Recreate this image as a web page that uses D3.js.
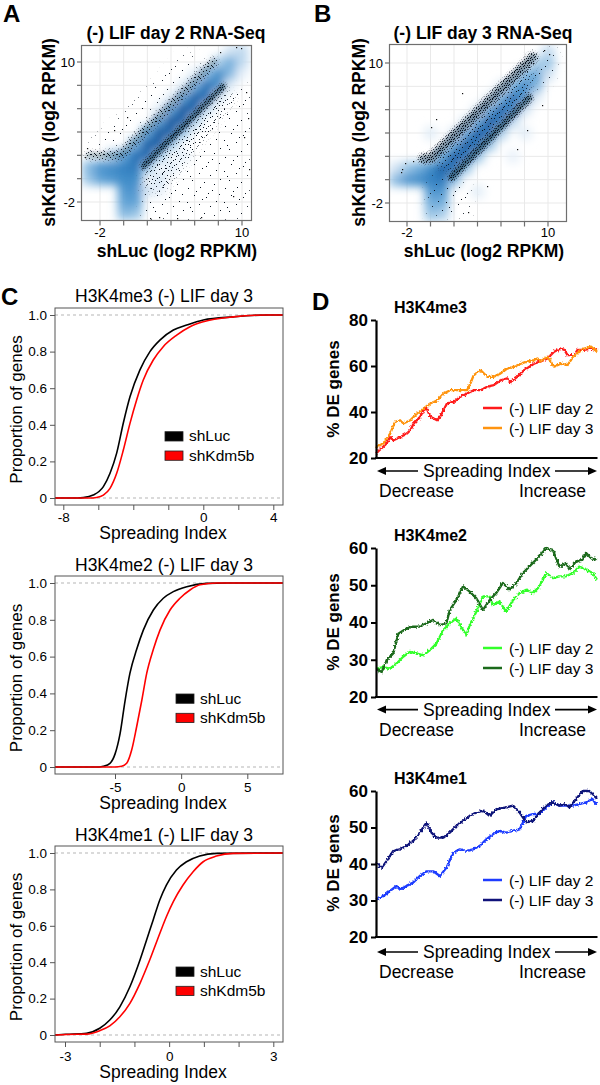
<!DOCTYPE html>
<html><head><meta charset="utf-8">
<script src="https://cdn.jsdelivr.net/npm/d3@7"></script>
<style>
body{margin:0;background:#fff}
svg{display:block}
text{font-family:"Liberation Sans",Arial,Helvetica,sans-serif;fill:#000}
</style></head>
<body><svg id="fig" width="600" height="1085"></svg>
<script>
// ===================== DATA =====================
// A/B scatter (log2 RPKM)
const scatterTicks = [-2, 0, 2, 4, 6, 8, 10];
const scatterTickLabels = ["-2", "", "", "", "", "", "10"];

// smoothScatter density, cells of 1 log2 unit: [shLuc, shKdm5b, relative density]
const densityDay2 = [
  [-3,1,.35],[-2,1,.5],[-1,1,.55],[0,1,.6],[1,1,.65],
  [-3,0,.3],[-2,0,.45],[-1,0,.5],[0,0,.55],[1,0,.55],
  [0,-1,.5],[1,-1,.5],[0,-2,.45],[1,-2,.45],[0,-3,.35],[1,-3,.3],
  [-1,2,.25],[0,2,.45],[1,2,.7],[1,3,.4],
  [2,3,.8],[2,2,.75],[2,4,.45],[2,1,.3],
  [3,4,.85],[3,3,.8],[3,5,.45],[3,2,.3],[3,6,.1],
  [4,5,.85],[4,4,.8],[4,6,.45],[4,3,.3],[4,7,.1],
  [5,6,.85],[5,5,.8],[5,7,.45],[5,4,.3],[5,8,.1],
  [6,7,.8],[6,6,.75],[6,8,.4],[6,5,.25],[6,9,.1],
  [7,8,.7],[7,7,.7],[7,9,.35],[7,6,.2],
  [8,9,.55],[8,8,.55],[8,10,.25],[8,7,.15],
  [9,10,.4],[9,9,.35],[9,11,.15],[9,8,.1],
  [10,11,.2],[10,10,.2],[10,9,.08],
  [2,-1,.15],[3,0,.15],[4,1,.12],[3,-1,.08],[5,2,.1]
];
const densityDay3 = [
  [-3,0,.35],[-2,0,.5],[-1,0,.55],[0,0,.6],[-3,1,.15],[-2,1,.3],[-1,1,.4],[0,1,.55],
  [0,-1,.5],[1,-1,.5],[0,-2,.4],[1,-2,.4],[0,-3,.3],[1,-3,.25],
  [1,1,.8],[1,0,.65],[1,2,.45],
  [2,2,.85],[2,1,.7],[2,3,.45],[2,0,.35],[2,4,.12],
  [3,3,.85],[3,2,.7],[3,4,.45],[3,1,.3],[3,5,.12],
  [4,4,.85],[4,3,.7],[4,5,.45],[4,2,.3],[4,6,.12],[4,-1,.1],
  [5,5,.85],[5,4,.7],[5,6,.45],[5,3,.3],[5,7,.1],
  [6,6,.8],[6,5,.65],[6,7,.4],[6,4,.25],[6,8,.1],
  [7,7,.75],[7,6,.6],[7,8,.4],[7,5,.2],[7,2,.08],
  [8,8,.6],[8,7,.5],[8,9,.35],[8,6,.15],[8,4,.1],
  [9,9,.45],[9,8,.35],[9,10,.25],[9,7,.1],
  [10,10,.3],[10,11,.2],[10,9,.15],
  [0,4,.1]
];
// dense point ridges and scattered-point regions
const ridgeUpperDay2 = [[-2.9,2.0],[-0.3,2.0],[7.6,10.0]];
const ridgeLowerDay2 = [[1.7,1.1],[8.4,7.9]];
const ridgeEdgeDay2  = [[1.6,-1.8],[1.6,1.1]];
const nearBelowDay2  = [[1.8,-1],[1.8,0.7],[8.5,7.6],[9.5,7],[3.5,-1]];
const sparseBelowDay2 = [[1.5,-3.6],[1.5,0.5],[8.5,7.4],[10.8,8.2],[10.8,-3.6]];
const sparseAboveDay2 = [[-2.9,2.6],[-0.5,2.6],[7,10.4],[5,10.8],[-1.2,4.6],[-2.9,3.3]];
const outliersDay2 = [[-3.3,1.9],[-3.1,2.6],[10.3,7.4],[10.5,5.2],[10.2,3.6],[9.9,11.2],[9.5,11.3],[8.1,10.9],
  [6.5,-3.3],[4.5,-3.4],[3,-3.3],[2.2,-3.4],[10.6,0.8],[9.2,-1.5],[0.3,5.3],[-0.8,4.2]];

const ridgeUpperDay3 = [[-0.6,1.8],[0.1,1.9],[8.7,10.5]];
const ridgeLowerDay3 = [[1.8,0.2],[8.4,7.0]];
const ridgeEdgeDay3  = [[1.7,-1.2],[1.7,0.3]];
const bandCoreDay3   = [[0.2,1.5],[1.8,0.6],[8.4,7.2],[8.8,10]];
const sparseLowDay3  = [[-0.3,-3.2],[-0.3,0.4],[1.5,0.4],[3.5,-0.5],[3.5,-3.2]];
const sparseHighDay3 = [[7.5,9.5],[9,11.3],[10.8,11.3],[10.8,9],[9.2,7.5]];
const outliersDay3 = [[-2.5,0.7],[-2.4,0.9],[-2.2,1.4],[-1.5,1.6],[0,4.5],[0.5,5.2],[8.2,4.3],[7.4,2.6],
  [9.5,6.4],[3.2,-2.8],[4.8,-0.5],[10.1,10.8],[9.7,11.1],[2.7,7.4]];

// C: cumulative distributions [spreading index, proportion of genes]
const me3ShLuc = [[-8.5,0],[-7.2,0],[-6.86,0.002],[-6.29,0.016],[-5.71,0.062],[-5.33,0.135],[-4.95,0.245],[-4.57,0.41],
  [-4.19,0.553],[-3.62,0.70],[-3.05,0.80],[-2.48,0.863],[-1.71,0.918],[-0.95,0.945],[0,0.973],[1.71,0.99],[3.62,1.0],[4.6,1.0]];
const me3ShKdm5b = [[-8.5,0],[-6.5,0],[-6.1,0.003],[-5.71,0.016],[-5.33,0.053],[-4.95,0.135],[-4.57,0.262],[-4.19,0.408],
  [-3.81,0.536],[-3.43,0.645],[-2.86,0.754],[-2.29,0.827],[-1.52,0.89],[-0.76,0.936],[0,0.963],[1.71,0.99],[3.62,1.0],[4.6,1.0]];
const me2ShLuc = [[-9.6,0],[-6.2,0],[-5.88,0.004],[-5.38,0.02],[-5.0,0.07],[-4.62,0.18],[-4.24,0.36],[-3.87,0.51],
  [-3.36,0.64],[-2.86,0.744],[-2.1,0.853],[-1.35,0.917],[-0.59,0.953],[0.42,0.98],[1.93,0.998],[3.5,1],[7.7,1]];
const me2ShKdm5b = [[-9.6,0],[-5,0],[-4.5,0.004],[-4.12,0.02],[-3.74,0.092],[-3.36,0.22],[-2.98,0.36],[-2.6,0.51],
  [-2.1,0.64],[-1.6,0.744],[-0.84,0.853],[-0.09,0.917],[0.67,0.962],[1.43,0.99],[2.69,1.0],[7.7,1]];
const me1ShLuc = [[-3.3,0],[-2.96,0.004],[-2.38,0.01],[-2.0,0.037],[-1.71,0.082],[-1.42,0.155],[-1.13,0.265],[-0.84,0.412],
  [-0.65,0.522],[-0.46,0.632],[-0.27,0.742],[-0.08,0.824],[0.21,0.907],[0.5,0.952],[0.88,0.984],[1.36,0.998],[3.3,1]];
const me1ShKdm5b = [[-3.3,0],[-2.96,0.003],[-2.38,0.005],[-2.0,0.024],[-1.71,0.05],[-1.42,0.1],[-1.13,0.174],[-0.84,0.284],
  [-0.56,0.412],[-0.27,0.558],[-0.08,0.65],[0.12,0.733],[0.4,0.824],[0.69,0.897],[0.98,0.952],[1.36,0.983],[1.84,0.998],[3.3,1]];
const cdfYTicks = [0, 0.2, 0.4, 0.6, 0.8, 1.0];
const cdfLegend = ["shLuc", "shKdm5b"];

// D: % DE genes along spreading-index rank (0 = decrease, 100 = increase)
const deMe3Day2 = [[0,22],[4.8,26.3],[6.4,29],[7.9,27.7],[10.9,29],[13.9,30.6],[15.5,32],[17,34.9],[20,37.9],[21.5,40.8],
  [23,41.5],[24.5,38],[27.6,36.4],[29.1,38],[32.1,43.7],[35.2,44.4],[38.2,46.6],[41.2,48],[44.2,49.5],[47.3,49.5],
  [50.3,51],[53.3,51.7],[56.4,53.8],[59.4,54.6],[60.9,53],[63.9,55.3],[67,58.2],[71.5,61],[74.5,62],[77.6,63.3],
  [80.6,66.2],[83.6,67.6],[85.2,67],[86.7,64.7],[89.7,64.7],[91.2,67],[94.2,67],[97.3,67.6],[100,67]];
const deMe3Day3 = [[0,24.8],[3.3,26.3],[6.4,30.6],[8.6,35.7],[10.9,36.4],[12.4,35],[15.5,36.4],[18.5,39.3],[21.5,41.5],
  [24.5,43.7],[27.6,45],[30.6,48],[33.6,49.5],[36.7,49.5],[41.2,49.5],[42.7,52.4],[44.2,56],[47.3,58.2],[50.3,55.3],
  [53.3,55.3],[56.4,56.8],[59.4,58.9],[62.4,59.7],[65.5,61],[68.5,62],[71.5,62.6],[73,63.3],[74.5,62],[77.6,64],
  [80.6,59.7],[83.6,61],[86.7,60.4],[89.7,64.7],[94.2,67.6],[97.3,68.4],[100,66.2]];
const deMe2Day2 = [[0,27.6],[3.3,28],[6.3,27.6],[9.3,29],[12.3,30.8],[15.3,32.1],[18.3,31.7],[21.4,31.2],[24.4,32.6],
  [27.4,34.4],[30.4,38],[33.4,39.8],[36.4,41.1],[39.4,38],[40.9,36.6],[42.4,39.3],[45.4,42.9],[48.4,47],[51.4,47],
  [52.9,44.7],[55.9,45.6],[58.9,42.9],[62,46],[65,47.9],[68,48.8],[71,47.9],[74,49.7],[77,53.3],[80,51.9],[83,52.4],
  [86,52.4],[89,53.3],[92,55],[95,54.2],[98,53.3],[100,51.5]];
const deMe2Day3 = [[0,27.6],[2.6,26.7],[4.8,29.9],[7.8,31.7],[10.1,37],[13.8,38.4],[16.8,38.9],[19.8,38.9],[22.9,39.8],
  [25.9,40.7],[28.9,39.3],[31.9,39.8],[33.4,43.4],[36.4,46],[39.4,49.7],[42.4,48.3],[45.4,46.5],[48.4,43.4],[51.4,46],
  [54.4,47.9],[57.4,50.6],[60.5,48.8],[63.5,50.6],[66.5,53.3],[71,56],[74,57.8],[77,60],[80,59.5],[83,55],[86,56],
  [87.5,54.2],[90.5,56.4],[93.5,56.9],[95,58.7],[97.3,57.3],[100,56.9]];
const deMe1Day2 = [[0,30.3],[3.3,31.2],[6.3,32.6],[9.3,34],[10.8,33],[13.8,34],[16.8,34.9],[19.8,36.7],[22.9,38],
  [25.9,38],[28.9,36.7],[31.9,39],[34.9,43.1],[37.9,44],[40.9,43.6],[43.9,44],[47,45],[50,46.8],[53,48.2],[56,49.1],
  [59,48.6],[62,49.1],[65,49.5],[68,53.2],[71,53.7],[74,53.7],[77,55.5],[80,56.9],[83,56],[86,56],[89,56],[92,56.4],
  [95,56.9],[98,57.8],[100,56]];
const deMe1Day3 = [[0,40.4],[2.6,39],[4.8,40.8],[7.8,43.6],[10.8,44],[13.8,45],[16.8,46.3],[19.8,48.6],[22.9,51.4],
  [25.1,48.6],[27.4,47.2],[30.4,47.2],[33.4,48.6],[36.4,50.5],[39.4,51.8],[42.4,53.2],[45.4,54.1],[48.4,54.6],[51.4,53.2],
  [54.4,55],[59,55.5],[62,56],[65,54.1],[68,51.4],[71,51.8],[74,54.1],[77,56],[80,56.9],[83,56],[86,56.4],[87.5,55.5],
  [90.5,57.8],[93.5,60],[96.5,60],[98.5,58.9],[100,57.8]];
const deLegend = ["(-) LIF day 2", "(-) LIF day 3"];

// ===================== DRAWING =====================
const svg = d3.select("#fig");
const defs = svg.append("defs");
const FONT_B = "bold";
let maskCount = 0;

function pattern(id, w, h, px) {
  const p = defs.append("pattern").attr("id", id).attr("patternUnits", "userSpaceOnUse")
    .attr("width", w).attr("height", h);
  px.forEach(([x, y]) => p.append("rect").attr("x", x).attr("y", y).attr("width", 1).attr("height", 1).attr("fill", "#07111d"));
}
pattern("dotHeavy", 11, 9, [[0,0],[3,0],[5,1],[8,0],[10,2],[1,2],[6,3],[3,3],[9,4],[0,4],[4,5],[7,5],[2,6],[10,6],
  [5,7],[8,8],[1,8],[3,8],[6,0],[0,6],[7,2],[9,7],[2,4]]);
pattern("dotDense", 13, 11, [[0,0],[4,0],[9,1],[12,0],[2,2],[6,3],[11,4],[1,5],[8,5],[4,6],[12,7],[0,8],[6,8],[10,9],[3,10],[8,10],[5,1]]);
pattern("dotMed", 17, 13, [[1,1],[6,0],[11,2],[15,1],[3,4],[9,5],[14,6],[0,7],[6,8],[12,9],[16,10],[2,11],[8,12],[4,9],[10,3],[13,12]]);
pattern("dotSparse", 37, 31, [[3,2],[15,1],[27,4],[34,8],[9,9],[21,11],[31,15],[2,16],[14,18],[25,20],[35,24],[7,25],[19,27],[29,29],[11,5],[23,7],[5,21],[17,13]]);

function blurFilter(id, sd) {
  defs.append("filter").attr("id", id).attr("x", "-30%").attr("y", "-30%").attr("width", "160%").attr("height", "160%")
    .append("feGaussianBlur").attr("stdDeviation", sd);
}
blurFilter("blur", 5);
blurFilter("soft", 1.6);
blurFilter("softer", 3.5);
const jf = defs.append("filter").attr("id", "jitter").attr("x", "-5%").attr("y", "-10%").attr("width", "110%").attr("height", "120%");
jf.append("feTurbulence").attr("type", "fractalNoise").attr("baseFrequency", 0.55).attr("numOctaves", 1).attr("seed", 4).attr("result", "n");
jf.append("feDisplacementMap").attr("in", "SourceGraphic").attr("in2", "n").attr("scale", 4)
  .attr("xChannelSelector", "R").attr("yChannelSelector", "G");

const blues = d3.scaleSequential(d3.interpolateRgbBasis(["#ffffff", "#c4dbef", "#6daddc", "#2f7fc2", "#1660a8", "#0c4888"])).domain([0, 1]);

function panelLabel(t, x, y) {
  svg.append("text").attr("x", x).attr("y", y).attr("font-size", 24).attr("font-weight", FONT_B).text(t);
}

// textured region: pattern shown through a soft-edged mask
function textured(parent, box, pathD, pat, opts) {
  const id = "m" + (maskCount++);
  const m = defs.append("mask").attr("id", id).attr("maskUnits", "userSpaceOnUse")
    .attr("x", box.x0 - 20).attr("y", box.y0 - 20).attr("width", box.x1 - box.x0 + 40).attr("height", box.y1 - box.y0 + 40);
  const p = m.append("path").attr("d", pathD).attr("filter", `url(#${opts.blur})`);
  if (opts.w) p.attr("fill", "none").attr("stroke", "#fff").attr("stroke-width", opts.w).attr("stroke-linejoin", "round").attr("stroke-linecap", "round");
  else p.attr("fill", "#fff");
  parent.append("rect").attr("x", box.x0).attr("y", box.y0).attr("width", box.x1 - box.x0).attr("height", box.y1 - box.y0)
    .attr("fill", `url(#${pat})`).attr("mask", `url(#${id})`);
}

function drawScatter(c) {
  const x = d3.scaleLinear().domain([-2, 10]).range(c.xr);
  const y = d3.scaleLinear().domain([-2, 10]).range(c.yr);
  const { x0, x1, y0, y1 } = c.box;
  const g = svg.append("g");
  const clip = c.id + "clip";
  defs.append("clipPath").attr("id", clip).append("rect").attr("x", x0).attr("y", y0).attr("width", x1 - x0).attr("height", y1 - y0);
  const grid = g.append("g").attr("stroke", "#e9e9e9").attr("stroke-width", 1);
  grid.selectAll("line.v").data(scatterTicks).join("line").attr("class", "v")
    .attr("x1", d => x(d)).attr("x2", d => x(d)).attr("y1", y0).attr("y2", y1);
  grid.selectAll("line.h").data(scatterTicks).join("line").attr("class", "h")
    .attr("y1", d => y(d)).attr("y2", d => y(d)).attr("x1", x0).attr("x2", x1);
  const cw = Math.abs(x(1) - x(0)), ch = Math.abs(y(1) - y(0));
  g.append("g").attr("clip-path", `url(#${clip})`).append("g").attr("filter", "url(#blur)")
    .selectAll("rect").data(c.density).join("rect")
    .attr("x", d => x(d[0] - 0.5)).attr("y", d => y(d[1] + 0.5)).attr("width", cw + 0.5).attr("height", ch + 0.5)
    .attr("fill", d => blues(d[2]));
  const line = d3.line().x(d => x(d[0])).y(d => y(d[1]));
  const dots = g.append("g").attr("clip-path", `url(#${clip})`);
  c.ridges.forEach(r => {
    if (r.dark) dots.append("path").attr("d", line(r.pts)).attr("fill", "none").attr("stroke", "#0b1d33")
      .attr("stroke-opacity", r.dark).attr("stroke-width", r.w * 0.75).attr("stroke-linecap", "round")
      .attr("stroke-linejoin", "round").attr("filter", "url(#soft)");
  });
  c.fills.forEach(f => textured(dots, c.box, line(f.poly) + "Z", f.pat, { blur: "softer" }));
  c.ridges.forEach(r => textured(dots, c.box, line(r.pts), r.pat, { blur: "soft", w: r.w }));
  dots.selectAll("rect.o").data(c.points).join("rect").attr("class", "o")
    .attr("x", d => Math.round(x(d[0]))).attr("y", d => Math.round(y(d[1]))).attr("width", 1.2).attr("height", 1.2).attr("fill", "#111");
  g.append("rect").attr("x", x0 + 0.5).attr("y", y0 + 0.5).attr("width", x1 - x0).attr("height", y1 - y0)
    .attr("fill", "none").attr("stroke", "#6f6f6f").attr("stroke-width", 1.2);
  const tk = g.append("g").attr("stroke", "#6f6f6f").attr("stroke-width", 1.2);
  tk.selectAll("line.x").data(scatterTicks).join("line").attr("class", "x")
    .attr("x1", d => x(d)).attr("x2", d => x(d)).attr("y1", y1 + 0.5).attr("y2", y1 + 5.5);
  tk.selectAll("line.y").data(scatterTicks).join("line").attr("class", "y")
    .attr("y1", d => y(d)).attr("y2", d => y(d)).attr("x1", x0 + 0.5).attr("x2", x0 - 4);
  g.selectAll("text.xt").data(scatterTicks).join("text").attr("class", "xt")
    .attr("x", d => x(d)).attr("y", 237).attr("text-anchor", "middle").attr("font-size", 13)
    .text((d, i) => scatterTickLabels[i]);
  g.selectAll("text.yt").data(scatterTicks).join("text").attr("class", "yt")
    .attr("x", x0 - 6).attr("y", d => y(d) + 4.5).attr("text-anchor", "end").attr("font-size", 13)
    .text((d, i) => scatterTickLabels[i]);
  g.append("text").attr("x", c.titleX).attr("y", 39).attr("text-anchor", "middle").attr("font-size", 17.5)
    .attr("font-weight", FONT_B).text(c.title);
  g.append("text").attr("x", c.titleX + 1).attr("y", 256.5).attr("text-anchor", "middle").attr("font-size", 17.5)
    .attr("font-weight", FONT_B).text("shLuc (log2 RPKM)");
  g.append("text").attr("transform", `translate(${c.ylabX},${(y0 + y1) / 2}) rotate(-90)`).attr("text-anchor", "middle")
    .attr("font-size", 17.5).attr("font-weight", FONT_B).text("shKdm5b (log2 RPKM)");
}

drawScatter({
  id: "A", box: { x0: 81, x1: 251, y0: 45, y1: 220 }, xr: [100, 242], yr: [202, 62],
  density: densityDay2, title: "(-) LIF day 2 RNA-Seq", titleX: 176, ylabX: 55,
  fills: [{ poly: sparseBelowDay2, pat: "dotSparse" }, { poly: nearBelowDay2, pat: "dotMed" }, { poly: sparseAboveDay2, pat: "dotSparse" }],
  ridges: [{ pts: ridgeUpperDay2, pat: "dotDense", w: 10, dark: 0.22 }, { pts: ridgeEdgeDay2, pat: "dotMed", w: 5 },
           { pts: ridgeLowerDay2, pat: "dotHeavy", w: 7, dark: 0.55 }],
  points: outliersDay2
});
drawScatter({
  id: "B", box: { x0: 389, x1: 566, y0: 44, y1: 221 }, xr: [407, 548], yr: [203, 63],
  density: densityDay3, title: "(-) LIF day 3 RNA-Seq", titleX: 483, ylabX: 365,
  fills: [{ poly: sparseLowDay3, pat: "dotSparse" }, { poly: sparseHighDay3, pat: "dotSparse" }, { poly: bandCoreDay3, pat: "dotMed" }],
  ridges: [{ pts: ridgeUpperDay3, pat: "dotHeavy", w: 11, dark: 0.4 }, { pts: ridgeEdgeDay3, pat: "dotMed", w: 5 },
           { pts: ridgeLowerDay3, pat: "dotHeavy", w: 8, dark: 0.5 }],
  points: outliersDay3
});
panelLabel("A", 3, 22);
panelLabel("B", 314, 22);

// ---------- C ----------
function drawCDF(c) {
  const { x0, x1, y0, y1 } = c.box;
  const x = d3.scaleLinear().domain(c.xd).range(c.xr);
  const y = d3.scaleLinear().domain([0, 1]).range(c.yr);
  const g = svg.append("g");
  const clip = c.id + "clip";
  defs.append("clipPath").attr("id", clip).append("rect").attr("x", x0).attr("y", y0).attr("width", x1 - x0).attr("height", y1 - y0);
  g.selectAll("line.ref").data([0, 1]).join("line").attr("class", "ref")
    .attr("x1", x0).attr("x2", x1).attr("y1", d => y(d)).attr("y2", d => y(d))
    .attr("stroke", "#b5b5b5").attr("stroke-width", 1).attr("stroke-dasharray", "3,3");
  const line = d3.line().x(d => x(d[0])).y(d => y(d[1])).curve(d3.curveMonotoneX);
  const lg = g.append("g").attr("clip-path", `url(#${clip})`);
  lg.append("path").attr("d", line(c.black)).attr("fill", "none").attr("stroke", "#000").attr("stroke-width", 1.6);
  lg.append("path").attr("d", line(c.red)).attr("fill", "none").attr("stroke", "#ff0000").attr("stroke-width", 1.6);
  g.append("rect").attr("x", x0).attr("y", y0).attr("width", x1 - x0).attr("height", y1 - y0)
    .attr("fill", "none").attr("stroke", "#555").attr("stroke-width", 1);
  const ya = d3.axisLeft(y).tickValues(cdfYTicks).tickSize(5).tickPadding(3)
    .tickFormat(d => d === 0 ? "0" : d3.format(".1f")(d));
  const ay = g.append("g").attr("transform", `translate(${x0},0)`).call(ya);
  ay.select(".domain").remove();
  ay.selectAll(".tick line").attr("stroke", "#555");
  ay.selectAll("text").attr("font-size", 13.5).attr("font-family", null).attr("fill", "#000");
  const xa = d3.axisBottom(x).tickValues(c.xticks).tickSize(5).tickPadding(c.xpad)
    .tickFormat(d => c.xlabels.includes(d) ? String(d) : "");
  const ax = g.append("g").attr("transform", `translate(0,${y1})`).call(xa);
  ax.select(".domain").remove();
  ax.selectAll(".tick line").attr("stroke", "#555");
  ax.selectAll("text").attr("font-size", 13.5).attr("font-family", null).attr("fill", "#000");
  g.append("text").attr("x", 164).attr("y", c.titleY).attr("text-anchor", "middle").attr("font-size", 17.5).text(c.title);
  g.append("text").attr("x", 163).attr("y", c.xlabY).attr("text-anchor", "middle").attr("font-size", 17.5).text("Spreading Index");
  g.append("text").attr("transform", `translate(22,${(y0 + y1) / 2 + 3}) rotate(-90)`).attr("text-anchor", "middle")
    .attr("font-size", 17).text("Proportion of genes");
  const cols = ["#000", "#ff0000"];
  cdfLegend.forEach((t, i) => {
    const yy = c.legY + i * 19.3;
    g.append("rect").attr("x", c.legX).attr("y", yy).attr("width", 18).attr("height", 9.3)
      .attr("fill", cols[i]).attr("stroke", "#222").attr("stroke-width", 0.8);
    g.append("text").attr("x", c.legX + 24).attr("y", yy + 9.5).attr("font-size", 15.5).text(t);
  });
}
drawCDF({ id: "C1", box: { x0: 55, x1: 283, y0: 308, y1: 505 }, xd: [-8, 4], xr: [63.3, 273.3], yr: [498, 315],
  black: me3ShLuc, red: me3ShKdm5b, xticks: [-8, -6, -4, -2, 0, 2, 4], xlabels: [-8, 0, 4], xpad: 2,
  title: "H3K4me3 (-) LIF day 3", titleY: 302, xlabY: 539, legX: 165, legY: 431.7 });
drawCDF({ id: "C2", box: { x0: 55, x1: 283, y0: 576, y1: 774 }, xd: [-5, 5], xr: [115, 247.3], yr: [767, 583],
  black: me2ShLuc, red: me2ShKdm5b, xticks: [-5, 0, 5], xlabels: [-5, 0, 5], xpad: 3,
  title: "H3K4me2 (-) LIF day 3", titleY: 571, xlabY: 809, legX: 176, legY: 694 });
drawCDF({ id: "C3", box: { x0: 55, x1: 283, y0: 846, y1: 1042 }, xd: [-3, 3], xr: [65, 273.3], yr: [1035, 853],
  black: me1ShLuc, red: me1ShKdm5b, xticks: [-3, -2, -1, 0, 1, 2, 3], xlabels: [-3, 0, 3], xpad: 4.5,
  title: "H3K4me1 (-) LIF day 3", titleY: 841, xlabY: 1078, legX: 176, legY: 967 });
panelLabel("C", 1, 305);

// ---------- D ----------
function drawDE(c) {
  const x = d3.scaleLinear().domain([0, 100]).range([376, 597]);
  const y = d3.scaleLinear().domain(c.yd).range(c.yr);
  const g = svg.append("g");
  const line = d3.line().x(d => x(d[0])).y(d => y(d[1]));
  const lg = g.append("g").attr("filter", "url(#jitter)");
  [c.s2, c.s3].forEach((s, i) => lg.append("path").attr("d", line(s)).attr("fill", "none")
    .attr("stroke", c.cols[i]).attr("stroke-width", 2.3).attr("stroke-linejoin", "round"));
  const ya = d3.axisLeft(y).tickValues(c.ticks).tickSize(5).tickSizeOuter(0).tickPadding(3).tickFormat(d3.format("d"));
  const ay = g.append("g").attr("transform", "translate(376,0)").call(ya);
  ay.select(".domain").attr("stroke-width", 2.2).attr("stroke", "#000");
  ay.selectAll(".tick line").attr("stroke-width", 2).attr("stroke", "#000");
  ay.selectAll("text").attr("font-size", 17).attr("font-weight", FONT_B).attr("font-family", null).attr("fill", "#000");
  g.append("line").attr("x1", 375).attr("x2", 597.5).attr("y1", y(c.yd[0])).attr("y2", y(c.yd[0]))
    .attr("stroke", "#000").attr("stroke-width", 2.2);
  const ay0 = y(c.yd[0]) + c.arrowOff;
  const ar = g.append("g");
  ar.append("line").attr("x1", 383).attr("x2", 418).attr("y1", ay0).attr("y2", ay0).attr("stroke", "#000").attr("stroke-width", 1.6);
  ar.append("line").attr("x1", 555).attr("x2", 591).attr("y1", ay0).attr("y2", ay0).attr("stroke", "#000").attr("stroke-width", 1.6);
  ar.append("path").attr("d", `M377,${ay0} l9,-4 l0,8 Z`).attr("fill", "#000");
  ar.append("path").attr("d", `M597,${ay0} l-9,-4 l0,8 Z`).attr("fill", "#000");
  g.append("text").attr("x", 486.7).attr("y", ay0 + 6).attr("text-anchor", "middle").attr("font-size", 17.5).text("Spreading Index");
  g.append("text").attr("x", 379).attr("y", ay0 + 26).attr("font-size", 17.5).text("Decrease");
  g.append("text").attr("x", 586).attr("y", ay0 + 26).attr("text-anchor", "end").attr("font-size", 17.5).text("Increase");
  g.append("text").attr("x", 394).attr("y", y(c.yd[1]) - 7).attr("font-size", 16).attr("font-weight", FONT_B).text(c.title);
  g.append("text").attr("transform", `translate(339,${c.ylabY}) rotate(-90)`).attr("text-anchor", "middle")
    .attr("font-size", 17).attr("font-weight", FONT_B).text("% DE genes");
  deLegend.forEach((t, i) => {
    const yy = c.legY + i * 20;
    g.append("line").attr("x1", 483).attr("x2", 502).attr("y1", yy).attr("y2", yy).attr("stroke", c.cols[i]).attr("stroke-width", 2.5);
    g.append("text").attr("x", 509).attr("y", yy + 5.5).attr("font-size", 15.5).text(t);
  });
}
drawDE({ yd: [20, 80], yr: [458, 320], ticks: [20, 40, 60, 80], s2: deMe3Day2, s3: deMe3Day3,
  cols: ["#ff1a1a", "#ff9410"], title: "H3K4me3", ylabY: 389, legY: 408, arrowOff: 13 });
drawDE({ yd: [20, 60], yr: [697, 548], ticks: [20, 30, 40, 50, 60], s2: deMe2Day2, s3: deMe2Day3,
  cols: ["#33ff2a", "#1b6a1b"], title: "H3K4me2", ylabY: 622, legY: 648, arrowOff: 12.6 });
drawDE({ yd: [20, 60], yr: [937, 791], ticks: [20, 30, 40, 50, 60], s2: deMe1Day2, s3: deMe1Day3,
  cols: ["#1f3cff", "#10127a"], title: "H3K4me1", ylabY: 863, legY: 880, arrowOff: 15 });
panelLabel("D", 312, 310);
</script></body></html>
